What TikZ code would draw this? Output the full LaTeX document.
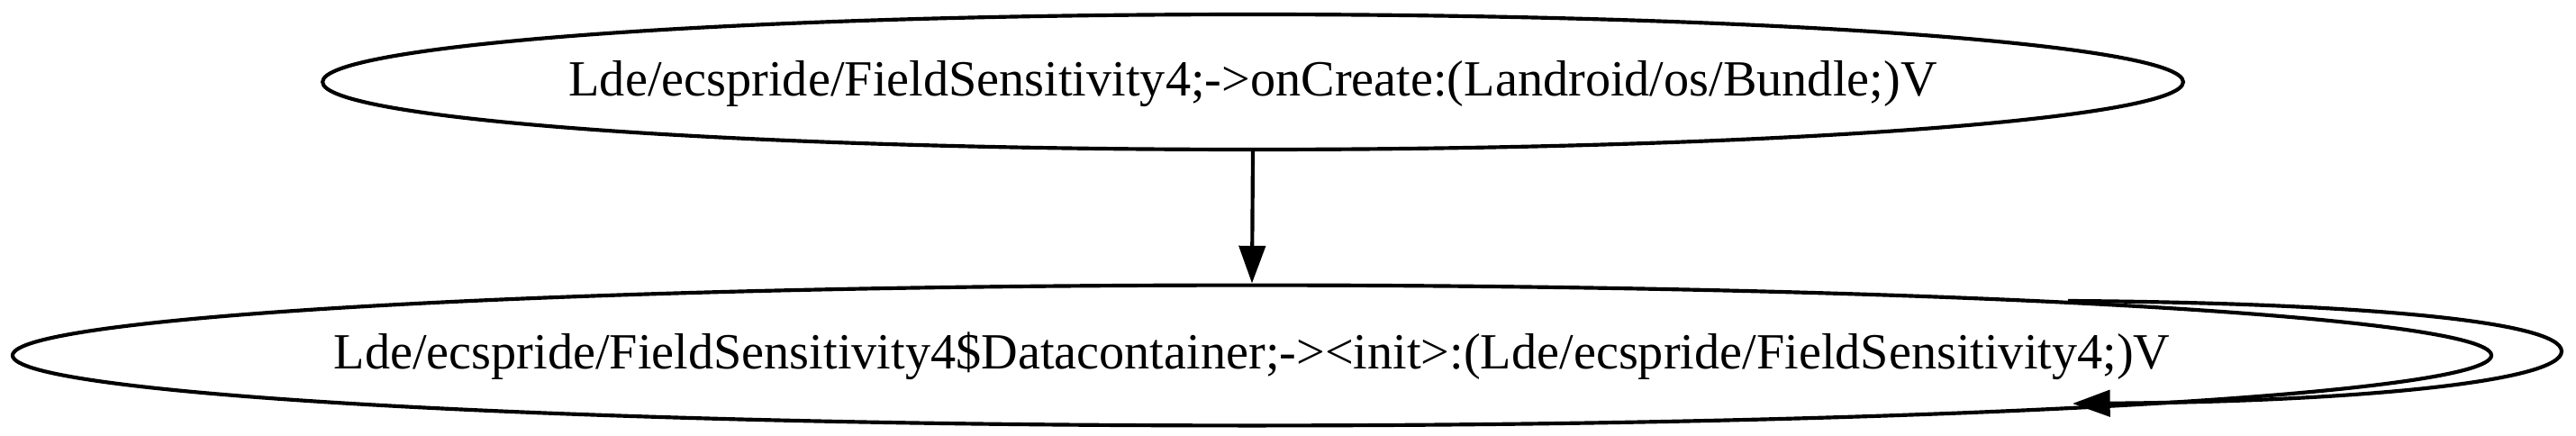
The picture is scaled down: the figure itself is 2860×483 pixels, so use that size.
\documentclass[tikz,border=0pt]{standalone}
\usepackage{fontspec}
\setmainfont{Liberation Serif}
\usetikzlibrary{arrows.meta,shapes.geometric}
\begin{document}
\begin{tikzpicture}[x=0.24pt,y=-0.24pt,
  gnode/.style={draw,ellipse,line width=1pt,inner xsep=-60pt,inner ysep=0pt,
    text height=9.5pt,text depth=2.2pt,font=\fontsize{13.5pt}{16pt}\selectfont},
  gedge/.style={line width=1pt,-{Triangle[length=10pt,width=7pt]}}]
\useasboundingbox (0,0) rectangle (2860,483);
\node[gnode,minimum width=495.8pt,minimum height=36pt] (top) at (1391,91) {Lde/ecspride/FieldSensitivity4;->onCreate:(Landroid/os/Bundle;)V};
\node[gnode,minimum width=660.5pt,minimum height=37.4pt] (bot) at (1390,394.5) {Lde/ecspride/FieldSensitivity4\$Datacontainer;-><init>:(Lde/ecspride/FieldSensitivity4;)V};
\coordinate (ls) at (2296,334);
\coordinate (le) at (2301,448);
\draw[gedge] (top.south) -- (bot.north);
\draw[gedge] (ls) .. controls (2600,336) and (2844,355) .. (2844,390) .. controls (2844,425) and (2600,446) .. (le);
\end{tikzpicture}
\end{document}
